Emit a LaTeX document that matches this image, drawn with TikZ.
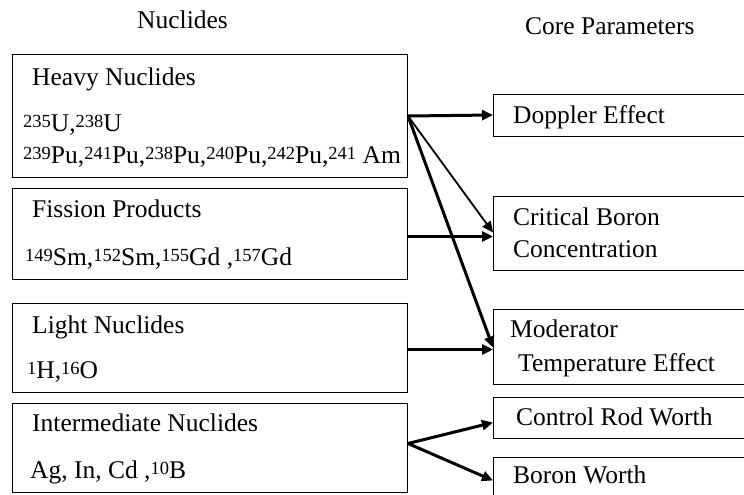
\documentclass[tikz,border=0pt]{standalone}
\usepackage{fontspec}
\setmainfont{Liberation Serif}
\usetikzlibrary{arrows.meta}
\newcommand{\iso}[1]{{\fontsize{18.5}{18.5}\selectfont\raisebox{4pt}{#1}}}
\begin{document}
\begin{tikzpicture}[x=1pt,y=-1pt,
  box/.style={draw, line width=1pt, rectangle, anchor=north west, inner sep=0pt},
  txt/.style={anchor=base west, inner sep=0pt, font=\fontsize{25.5}{25.5}\selectfont},
  thickarrow/.style={line width=3pt, -{Triangle[length=11pt,width=10pt]}},
  thinarrow/.style={line width=1.8pt, -{Triangle[length=11pt,width=10pt]}}]
\useasboundingbox (0,0) rectangle (744,495);
% titles
\node[txt] (t1) at (137,29) {Nuclides};
\node[txt] (t2) at (525,35) {Core Parameters};
% left boxes
\node[box, minimum width=395pt, minimum height=123pt] (heavy) at (12,54) {};
\node[box, minimum width=395pt, minimum height=91pt] (fis) at (12,188) {};
\node[box, minimum width=395pt, minimum height=89pt] (light) at (12,303) {};
\node[box, minimum width=395pt, minimum height=89pt] (inter) at (12,403) {};
\node[txt] (heavyT) at (32,85) {Heavy Nuclides};
\node[txt] (heavyA) at (23,131) {\iso{235}U,\iso{238}U};
\node[txt] (heavyB) at (23,163) {\iso{239}Pu,\iso{241}Pu,\iso{238}Pu,\iso{240}Pu,\iso{242}Pu,\iso{241} Am};
\node[txt] (fisT) at (32,217) {Fission Products};
\node[txt] (fisA) at (25,265) {\iso{149}Sm,\iso{152}Sm,\iso{155}Gd ,\iso{157}Gd};
\node[txt] (lightT) at (32,333) {Light Nuclides};
\node[txt] (lightA) at (27,378) {\iso{1}H,\iso{16}O};
\node[txt] (interT) at (32,431) {Intermediate Nuclides};
\node[txt] (interA) at (30,478) {Ag, In, Cd ,\iso{10}B};
% right boxes
\node[box, minimum width=270pt, minimum height=42pt] (dop) at (493,94) {};
\node[box, minimum width=270pt, minimum height=74pt] (crit) at (493,196) {};
\node[box, minimum width=270pt, minimum height=75pt] (mod) at (493,309) {};
\node[box, minimum width=270pt, minimum height=41pt] (rod) at (493,397) {};
\node[box, minimum width=270pt, minimum height=60pt] (bw) at (493,457) {};
\node[txt] (dopT) at (513,123) {Doppler Effect};
\node[txt] (critT) at (513,225) {Critical Boron};
\node[txt] (critT2) at (513,257) {Concentration};
\node[txt] (modT) at (510,337) {Moderator};
\node[txt] (modT2) at (518,371) {Temperature Effect};
\node[txt] (rodT) at (516,425) {Control Rod Worth};
\node[txt] (bwT) at (513,483) {Boron Worth};
% connectors
\draw[thickarrow] (heavy.east) -- ([yshift=0.5pt]dop.west);
\draw[thinarrow] (heavy.east) -- ([yshift=1pt]crit.west);
\draw[thickarrow] (heavy.east) -- ([yshift=-0.5pt]mod.west);
\draw[thickarrow] ([yshift=-2.5pt]fis.east) -- ([yshift=-3pt]crit.west);
\draw[thickarrow] ([yshift=-1.5pt]light.east) -- ([yshift=-2.5pt]mod.west);
\draw[thickarrow] ([yshift=4.5pt]inter.east) -- ([yshift=-4.5pt]rod.west);
\draw[thickarrow] ([yshift=4.5pt]inter.east) -- ([yshift=7pt]bw.west);
\end{tikzpicture}
\end{document}
